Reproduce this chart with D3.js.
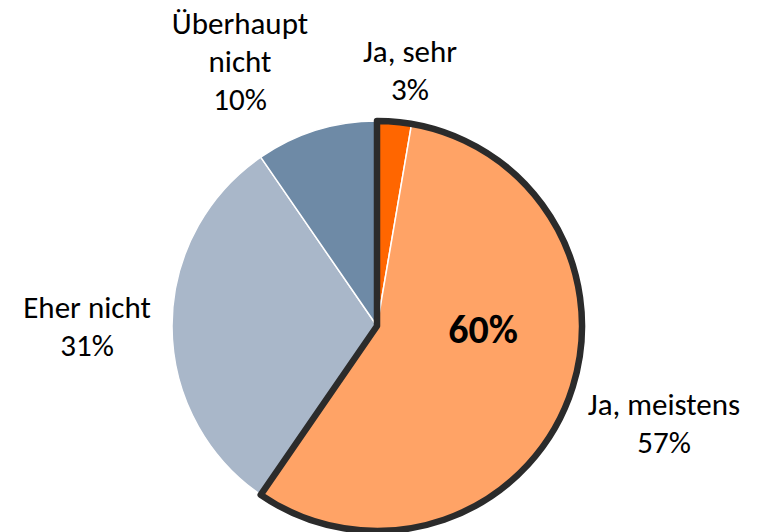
<!DOCTYPE html>
<html><head><meta charset="utf-8">
<script src="https://cdn.jsdelivr.net/npm/d3@7"></script>
<style>body{margin:0;background:#fff}svg{display:block}</style>
</head><body>
<svg id="c" width="762" height="532"></svg>
<script>
const categories = ["Ja, sehr", "Ja, meistens", "Eher nicht", "Überhaupt nicht"];
const values = [2.7, 56.9, 30.8, 9.6];
const valueLabels = ["3%", "57%", "31%", "10%"];
const colors = ["#FF6600", "#FFA366", "#A9B7C9", "#6E8AA6"];
const highlightLabel = "60%";

const svg = d3.select("#c");
const cx = 377, cy = 326, r = 205;
const g = svg.append("g").attr("transform", `translate(${cx},${cy})`);
const pie = d3.pie().sort(null).value(d => d)(values);
const arc = d3.arc().innerRadius(0).outerRadius(r);
g.selectAll("path.s").data(pie).enter().append("path").attr("class","s")
  .attr("d", arc).attr("fill", (d,i) => colors[i])
  .attr("stroke", "#fff").attr("stroke-width", 1.5).attr("stroke-linejoin","round");
// highlight outline around first two slices
const outline = d3.arc().innerRadius(0).outerRadius(r)({startAngle: pie[0].startAngle, endAngle: pie[1].endAngle});
g.append("path").attr("d", outline).attr("fill","none")
  .attr("stroke","#2B2B2B").attr("stroke-width",6.5).attr("stroke-linejoin","round");

const font = "Carlito, Lato, 'Liberation Sans', sans-serif";
const labelPos = [
  {x: 410, y: 62, lines: ["Ja, sehr"]},
  {x: 664, y: 415, lines: ["Ja, meistens"]},
  {x: 87, y: 318, lines: ["Eher nicht"]},
  {x: 240, y: 34, lines: ["Überhaupt", "nicht"]}
];
labelPos.forEach((p, i) => {
  const t = svg.append("text").attr("text-anchor","middle").attr("font-family",font)
    .attr("font-size",31).attr("fill","#000");
  const lines = p.lines.concat([valueLabels[i]]);
  lines.forEach((l, k) => t.append("tspan").attr("x", p.x).attr("y", p.y + k*38).text(l));
});
svg.append("text").attr("x",483).attr("y",343).attr("text-anchor","middle")
  .attr("font-family",font).attr("font-weight","bold").attr("font-size",40).text(highlightLabel);
</script>
</body></html>
